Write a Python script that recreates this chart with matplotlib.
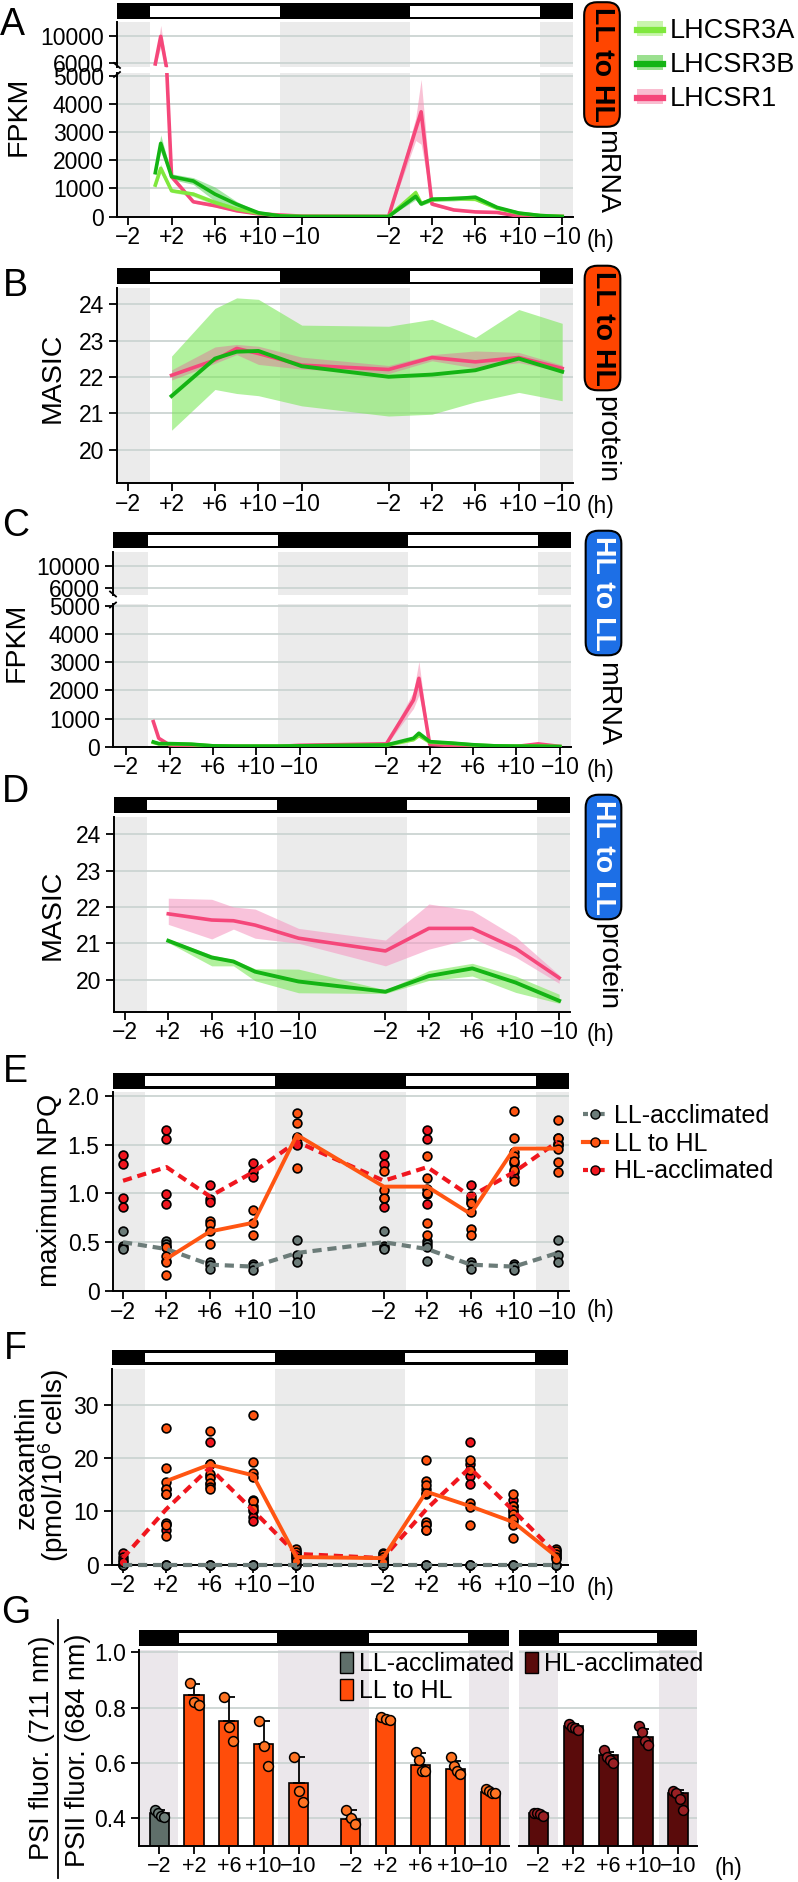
import numpy as np
import matplotlib
matplotlib.use('Agg')
import matplotlib.pyplot as plt
from matplotlib.patches import Rectangle, Patch
from matplotlib.lines import Line2D

plt.rcParams['font.family'] = ['Liberation Sans', 'DejaVu Sans']
plt.rcParams['mathtext.fontset'] = 'custom'
plt.rcParams['mathtext.rm'] = 'Liberation Sans'

# ---------------- data ----------------
tick_pos = [-2, 2, 6, 10, 14, 22, 26, 30, 34, 38]
tick_lab = ['−2', '+2', '+6', '+10', '−10', '−2', '+2', '+6', '+10', '−10']
light_on = [(0, 12), (24, 36)]
dark = [(-6, 0), (12, 24), (36, 45)]

# mRNA time points (h)
rna_h = [0.5, 1, 2, 4, 6, 8, 10, 12, 14, 22, 24.5, 25, 26, 28, 30, 32, 34, 36, 38]

# A: LL to HL, mRNA (FPKM)
a_3a = [1120, 1715, 920, 800, 500, 270, 120, 30, 10, 5, 850, 470, 600, 650, 620, 300, 120, 40, 10]
a_3a_sd = [100, 150, 60, 80, 100, 60, 30, 10, 5, 5, 120, 60, 60, 60, 60, 40, 30, 10, 5]
a_3b = [1560, 2600, 1420, 1265, 800, 440, 140, 25, 5, 5, 720, 450, 620, 640, 690, 330, 130, 40, 5]
a_3b_sd = [80, 300, 100, 120, 250, 100, 40, 10, 5, 5, 120, 60, 80, 80, 80, 60, 30, 10, 5]
a_1 = [5900, 9900, 1420, 530, 390, 210, 100, 60, 20, 10, 3100, 3720, 450, 240, 170, 150, 20, 20, 10]
a_1_sd = [300, 1600, 100, 50, 50, 40, 30, 20, 10, 10, 400, 1150, 60, 40, 30, 30, 20, 20, 10]

# C: HL to LL, mRNA (FPKM)
c_3a = [150, 100, 100, 80, 30, 20, 20, 20, 30, 50, 250, 400, 160, 120, 60, 30, 20, 20, 5]
c_3a_sd = [30, 20, 20, 20, 10, 5, 5, 5, 10, 10, 40, 60, 30, 20, 15, 10, 5, 5, 5]
c_3b = [170, 110, 110, 90, 30, 20, 20, 20, 30, 60, 300, 480, 180, 130, 70, 30, 20, 20, 5]
c_3b_sd = [30, 20, 20, 20, 10, 5, 5, 5, 10, 10, 40, 60, 30, 20, 15, 10, 5, 5, 5]
c_1 = [890, 300, 60, 20, 10, 10, 10, 10, 50, 100, 1660, 2430, 80, 40, 20, 10, 10, 100, 10]
c_1_sd = [100, 60, 20, 10, 5, 5, 5, 5, 20, 40, 300, 600, 20, 10, 5, 5, 5, 60, 5]

# protein time points (h)
prot_h = [2, 6, 8, 10, 14, 22, 26, 30, 34, 38]

# B: LL to HL, protein (MASIC)
b_3 = [21.48, 22.51, 22.70, 22.72, 22.30, 22.01, 22.07, 22.19, 22.51, 22.15]
b_3_lo = [20.54, 21.66, 21.55, 21.49, 21.21, 20.93, 20.98, 21.32, 21.58, 21.35]
b_3_hi = [22.58, 23.89, 24.18, 24.14, 23.43, 23.40, 23.59, 23.09, 23.86, 23.48]
b_1 = [22.05, 22.47, 22.79, 22.65, 22.33, 22.21, 22.54, 22.42, 22.54, 22.24]
b_1_lo = [21.92, 22.38, 22.62, 22.35, 22.22, 22.10, 22.45, 22.25, 22.40, 22.15]
b_1_hi = [22.20, 22.83, 22.90, 22.85, 22.55, 22.32, 22.62, 22.72, 22.68, 22.33]

# D: HL to LL, protein (MASIC)
d_1 = [21.81, 21.64, 21.62, 21.50, 21.14, 20.79, 21.41, 21.41, 20.86, 20.05]
d_1_lo = [21.52, 21.12, 21.39, 21.14, 21.00, 20.38, 20.84, 21.14, 20.62, 19.90]
d_1_hi = [22.24, 22.21, 22.00, 21.94, 21.41, 21.09, 22.08, 21.90, 21.18, 20.13]
d_3 = [21.07, 20.61, 20.50, 20.22, 19.95, 19.67, 20.10, 20.31, 19.92, 19.42]
d_3_lo = [21.02, 20.38, 20.38, 19.97, 19.64, 19.62, 19.98, 20.10, 19.65, 19.35]
d_3_hi = [21.12, 20.68, 20.55, 20.30, 20.29, 19.72, 20.25, 20.45, 20.10, 19.60]

# E: maximum NPQ
e_h = [-2, 2, 6, 10, 14, 22, 26, 30, 34, 38]
e_ll_mean = [0.50, 0.43, 0.27, 0.25, 0.39, 0.50, 0.43, 0.27, 0.25, 0.39]
e_hl_mean = [1.13, 1.27, 0.97, 1.22, 1.53, 1.13, 1.27, 0.97, 1.22, 1.53]
e_ll_pts = [[0.61, 0.46, 0.44, 0.43], [0.51, 0.48, 0.45, 0.31], [0.30, 0.27, 0.23],
            [0.28, 0.26, 0.22], [0.52, 0.37, 0.30], [0.61, 0.46, 0.44, 0.43],
            [0.51, 0.48, 0.45, 0.31], [0.30, 0.27, 0.23], [0.28, 0.26, 0.22], [0.52, 0.37, 0.30]]
e_hl_pts = [[1.39, 1.30, 0.95, 0.86], [1.65, 1.56, 0.99, 0.89], [1.09, 0.94, 0.91],
            [1.31, 1.22, 1.17], [1.57, 1.52, 1.50], [1.39, 1.30, 0.95, 0.86],
            [1.65, 1.56, 0.99, 0.89], [1.09, 0.94, 0.91], [1.31, 1.22, 1.17], [1.57, 1.52, 1.50]]
e_sh_h = [2, 6, 10, 14, 22, 26, 30, 34, 38]
e_sh_mean = [0.33, 0.61, 0.70, 1.60, 1.07, 1.07, 0.79, 1.46, 1.46]
e_sh_pts = [[0.45, 0.36, 0.30, 0.16], [0.72, 0.69, 0.61, 0.48], [0.83, 0.70, 0.57],
            [1.82, 1.72, 1.58, 1.26], [1.23, 1.04, 0.95], [1.38, 1.16, 1.05, 1.00, 0.70, 0.57],
            [0.97, 0.90, 0.81, 0.64, 0.57], [1.85, 1.57, 1.43, 1.38, 1.33, 1.24, 1.13],
            [1.75, 1.57, 1.50, 1.46, 1.32, 1.22]]

# F: zeaxanthin (pmol/10^6 cells)
f_ll_mean = [0, 0, 0, 0, 0, 0, 0, 0, 0, 0]
f_hl_mean = [1.2, 10.4, 18.2, 10.2, 2.0, 1.2, 10.4, 18.2, 10.2, 2.0]
f_ll_pts = [[0, 0, 0]] * 10
f_hl_pts = [[2.1, 1.4, 0.9, 0.5], [14.3, 13.3, 7.6, 6.5], [23.0, 19.0, 16.6, 15.1],
            [12.2, 11.0, 10.0, 9.0, 8.2], [2.6, 1.9, 1.4], [2.1, 1.4, 0.9, 0.5],
            [14.3, 13.3, 7.6, 6.5], [23.0, 19.0, 16.6, 15.1], [12.2, 11.0, 10.0, 9.0, 8.2],
            [2.6, 1.9, 1.4]]
f_sh_mean = [15.7, 18.8, 16.8, 1.4, 1.2, 13.7, 11.0, 8.0, 1.5]
f_sh_pts = [[25.7, 18.2, 15.6, 14.2, 13.2, 7.8, 7.4, 5.3],
            [25.2, 19.0, 17.1, 16.3, 15.3, 14.6, 14.2],
            [28.1, 19.3, 17.3, 16.4, 12.0, 10.5],
            [3.0, 2.4, 1.8, 1.2, 0.6], [2.0, 1.4, 0.9, 0.4],
            [19.6, 15.7, 14.9, 13.4, 8.0, 7.4, 6.5],
            [19.6, 17.8, 11.6, 10.8, 7.4],
            [13.3, 11.0, 10.3, 9.5, 8.5, 7.5, 5.0],
            [3.0, 2.5, 2.0, 1.5, 1.0]]

# G: PSI/PSII fluorescence ratio
g_lab = ['−2', '+2', '+6', '+10', '−10']
g_ll_mean = 0.42
g_ll_sd = 0.01
g_ll_pts = [0.43, 0.42, 0.41, 0.405]
g_sh_mean = [0.845, 0.750, 0.668, 0.527, 0.398, 0.757, 0.592, 0.578, 0.495]
g_sh_sd = [0.04, 0.09, 0.083, 0.096, 0.032, 0.005, 0.043, 0.03, 0.011]
g_sh_pts = [[0.89, 0.82, 0.81], [0.84, 0.73, 0.68], [0.75, 0.66, 0.59], [0.62, 0.50, 0.46],
            [0.43, 0.40, 0.38], [0.765, 0.76, 0.755], [0.64, 0.61, 0.57, 0.57],
            [0.62, 0.59, 0.57, 0.56], [0.505, 0.50, 0.49, 0.49]]
g_hl_mean = [0.42, 0.733, 0.627, 0.694, 0.49]
g_hl_sd = [0.005, 0.008, 0.012, 0.03, 0.012]
g_hl_pts = [[0.42, 0.42, 0.415, 0.41], [0.74, 0.73, 0.725, 0.72], [0.645, 0.62, 0.61, 0.60],
            [0.735, 0.71, 0.68, 0.665], [0.50, 0.49, 0.47, 0.43]]

# ---------------- styles ----------------
C3A, C3B, C1 = '#80e83e', '#14b414', '#f5477a'
B3A, B3B, B1 = '#9cf07e', '#5ed25e', '#f590b4'
GRAY_BG = '#ebebeb'
GRID = '#cbd4d2'
LLC, SHC, HLC = '#6c7c79', '#ff5512', '#f0161e'
TICK_FS, LAB_FS = 16.5, 20.5

W, H = 798, 1882
fig = plt.figure(figsize=(W / 100, H / 100), dpi=100)


def add_ax(x0, y0, x1, y1):
    return fig.add_axes([x0 / W, 1 - y1 / H, (x1 - x0) / W, (y1 - y0) / H])


def ftext(x, y, s, **kw):
    return fig.text(x / W, 1 - y / H, s, **kw)


def fline(xs, ys, **kw):
    fig.add_artist(Line2D([x / W for x in xs], [1 - y / H for y in ys],
                          transform=fig.transFigure, **kw))


def light_bar(x0, x1, y0, y1, xlim, spans):
    ax = add_ax(x0, y0, x1, y1)
    ax.set_xlim(xlim)
    ax.set_ylim(0, 1)
    ax.axis('off')
    ax.add_patch(Rectangle((xlim[0], 0), xlim[1] - xlim[0], 1, fc='black', ec='none'))
    for a, b in spans:
        ax.add_patch(Rectangle((a, 0.17), b - a, 0.66, fc='white', ec='none'))


def base(ax, xlim, ylim, yticks, ylabels=None, xaxis=True, shade=dark,
         xt=tick_pos, xl=tick_lab, bg=GRAY_BG, xfs=TICK_FS):
    ax.set_xlim(xlim)
    ax.set_ylim(ylim)
    ax.spines[['top', 'right']].set_visible(False)
    for s in ('left', 'bottom'):
        ax.spines[s].set_linewidth(1.4)
    ax.set_yticks(yticks)
    ax.set_yticklabels(ylabels if ylabels else [str(t) for t in yticks])
    ax.yaxis.grid(True, color=GRID, lw=1.3)
    ax.set_axisbelow(True)
    ax.tick_params(axis='y', labelsize=TICK_FS, length=6, width=1.3, pad=3.5)
    ax.tick_params(axis='x', labelsize=xfs, length=6, width=1.3, pad=1)
    for a, b in shade:
        ax.axvspan(a, b, color=bg, lw=0, zorder=0)
    ax.set_xticks(xt)
    ax.set_xticklabels(xl)
    if not xaxis:
        ax.spines['bottom'].set_visible(False)
        ax.tick_params(axis='x', bottom=False, labelbottom=False)


def rna_lines(ax, series):
    h = np.array(rna_h)
    for vals, sd, col, band in series:
        v, s = np.array(vals, float), np.array(sd, float)
        ax.fill_between(h, v - s, v + s, color=band, alpha=0.55, lw=0, zorder=2)
        ax.plot(h, v, color=col, lw=2.6, zorder=3)


def box_label(x, y, s, fc, tc):
    ftext(x, y, s, rotation=270, ha='center', va='center', fontsize=20.5,
          fontweight='bold', color=tc,
          bbox=dict(boxstyle='round,pad=0.17,rounding_size=0.45', fc=fc, ec='black', lw=1.5))


def broken_marks(x, y_up, y_lo):
    fline([x - 3, x + 3], [y_up - 3, y_up + 2], color='black', lw=1.3)
    fline([x - 3, x + 3], [y_lo + 3, y_lo - 2], color='black', lw=1.3)


# ---------------- A ----------------
xlA = (-3.03, 38.95)
light_bar(117, 572.5, 3.3, 19.3, xlA, light_on)
axu = add_ax(117, 21.7, 572.5, 66.7)
axl = add_ax(117, 73.3, 572.5, 216.7)
base(axu, xlA, (5500, 12030), [6000, 10000], xaxis=False)
base(axl, xlA, (0, 5085), [0, 1000, 2000, 3000, 4000, 5000])
ser_a = [(a_1, a_1_sd, C1, B1), (a_3a, a_3a_sd, C3A, B3A), (a_3b, a_3b_sd, C3B, B3B)]
rna_lines(axu, ser_a)
rna_lines(axl, ser_a)
broken_marks(117, 66, 74)
ftext(19, 116, 'FPKM', rotation=90, ha='center', va='center', fontsize=LAB_FS)
box_label(602, 64.5, 'LL to HL', '#ff4500', 'black')
ftext(606, 172, 'mRNA', rotation=270, ha='center', va='center', fontsize=20.5)
handles = [(Patch(fc=b, ec='none'), Line2D([], [], color=c, lw=4.5))
           for c, b in [(C3A, '#c9f5ad'), (C3B, '#9be08f'), (C1, '#f9bdd0')]]
fig.legend(handles, ['LHCSR3A', 'LHCSR3B', 'LHCSR1'], loc='upper left',
           bbox_to_anchor=(637 / W, 1 - 18 / H), frameon=False, fontsize=19.5,
           handlelength=0.95, handleheight=0.45, handletextpad=0.25,
           labelspacing=0.3, borderpad=0, borderaxespad=0)

# ---------------- B ----------------
xlB = (-3.03, 38.95)
light_bar(117, 572.5, 268.3, 284.3, xlB, light_on)
axb = add_ax(117, 287.7, 572.5, 483.3)
base(axb, xlB, (19.08, 24.46), [20, 21, 22, 23, 24])
axb.fill_between(prot_h, b_3_lo, b_3_hi, color='#7ee85c', alpha=0.6, lw=0, zorder=2)
axb.fill_between(prot_h, b_1_lo, b_1_hi, color='#e0709a', alpha=0.45, lw=0, zorder=2)
axb.plot(prot_h, b_1, color=C1, lw=2.6, zorder=3)
axb.plot(prot_h, b_3, color=C3B, lw=2.8, zorder=3)
ftext(53, 378, 'MASIC', rotation=90, ha='center', va='center', fontsize=LAB_FS)
box_label(602.5, 328, 'LL to HL', '#ff4500', 'black')
ftext(606, 440, 'protein', rotation=270, ha='center', va='center', fontsize=20.5)

# ---------------- C ----------------
xlC = (-3.22, 39.03)
light_bar(113, 571, 532.3, 548.3, xlC, light_on)
acu = add_ax(113, 551.7, 571, 595)
acl = add_ax(113, 604, 571, 746.7)
base(acu, xlC, (4800, 12565), [6000, 10000], xaxis=False)
base(acl, xlC, (0, 5070), [0, 1000, 2000, 3000, 4000, 5000])
ser_c = [(c_1, c_1_sd, C1, B1), (c_3a, c_3a_sd, C3A, B3A), (c_3b, c_3b_sd, C3B, B3B)]
rna_lines(acu, ser_c)
rna_lines(acl, ser_c)
broken_marks(113, 594.5, 604.5)
ftext(17, 642, 'FPKM', rotation=90, ha='center', va='center', fontsize=LAB_FS)
box_label(603.5, 593, 'HL to LL', '#1d6fe6', 'white')
ftext(607, 704, 'mRNA', rotation=270, ha='center', va='center', fontsize=20.5)

# ---------------- D ----------------
xlD = (-3.0, 39.0)
light_bar(114, 570, 797.3, 812.7, xlD, light_on)
axd = add_ax(114, 816.7, 570, 1011.7)
base(axd, xlD, (19.12, 24.48), [20, 21, 22, 23, 24])
axd.fill_between(prot_h, d_1_lo, d_1_hi, color='#f59cc4', alpha=0.6, lw=0, zorder=2)
axd.fill_between(prot_h, d_3_lo, d_3_hi, color='#7ee85c', alpha=0.6, lw=0, zorder=2)
axd.plot(prot_h, d_1, color=C1, lw=2.6, zorder=3)
axd.plot(prot_h, d_3, color=C3B, lw=2.8, zorder=3)
ftext(53, 915, 'MASIC', rotation=90, ha='center', va='center', fontsize=LAB_FS)
box_label(603.5, 857, 'HL to LL', '#1d6fe6', 'white')
ftext(607, 967, 'protein', rotation=270, ha='center', va='center', fontsize=20.5)


# ---------------- E & F ----------------
def dots(ax, hours, pts, col, s=40):
    for h, p in zip(hours, pts):
        ax.scatter([h] * len(p), p, s=s, fc=col, ec='black', lw=1.2, zorder=4, clip_on=False)


xlE = (-2.95, 39.0)
light_bar(112.7, 568.5, 1073.3, 1089, xlE, light_on)
axe = add_ax(112.7, 1092, 568.5, 1291)
base(axe, xlE, (0, 2.04), [0, 0.5, 1.0, 1.5, 2.0], ['0', '0.5', '1.0', '1.5', '2.0'])
dots(axe, e_h, e_ll_pts, LLC)
dots(axe, e_h, e_hl_pts, HLC)
dots(axe, e_sh_h, e_sh_pts, SHC)
axe.plot(e_h, e_ll_mean, color=LLC, lw=3, ls=(0, (2.2, 1.4)), zorder=5)
axe.plot(e_h, e_hl_mean, color=HLC, lw=3, ls=(0, (2.2, 1.4)), zorder=5)
axe.plot(e_sh_h, e_sh_mean, color=SHC, lw=2.8, zorder=5)
ftext(50, 1190, 'maximum NPQ', rotation=90, ha='center', va='center', fontsize=LAB_FS)
eh = [Line2D([], [], color=LLC, lw=3, ls=(0, (1.2, 0.8)), marker='o', ms=6.5, mfc=LLC, mec='black'),
      Line2D([], [], color=SHC, lw=3, marker='o', ms=6.5, mfc=SHC, mec='black'),
      Line2D([], [], color=HLC, lw=3, ls=(0, (1.2, 0.8)), marker='o', ms=6.5, mfc=HLC, mec='black')]
fig.legend(eh, ['LL-acclimated', 'LL to HL', 'HL-acclimated'], loc='upper left',
           bbox_to_anchor=(583 / W, 1 - 1104 / H), frameon=False, fontsize=18,
           handlelength=0.95, handletextpad=0.3, labelspacing=0.15, borderpad=0,
           borderaxespad=0)

xlF = (-3.0, 39.1)
light_bar(112, 568.4, 1350, 1365, xlF, light_on)
axf = add_ax(112, 1369, 568.4, 1564.5)
base(axf, xlF, (0, 36.8), [0, 10, 20, 30])
dots(axf, e_h, f_ll_pts, LLC)
dots(axf, e_h, f_hl_pts, HLC)
dots(axf, e_sh_h, f_sh_pts, SHC)
axf.plot(e_h, f_ll_mean, color=LLC, lw=3, ls=(0, (2.2, 1.4)), zorder=5, clip_on=False)
axf.plot(e_h, f_hl_mean, color=HLC, lw=3, ls=(0, (2.2, 1.4)), zorder=5)
axf.plot(e_sh_h, f_sh_mean, color=SHC, lw=2.8, zorder=5)
ftext(27, 1462, 'zeaxanthin', rotation=90, ha='center', va='center', fontsize=20)
ftext(54, 1466, '(pmol/10$^{\\mathrm{6}}$ cells)', rotation=90, ha='center', va='center',
      fontsize=20)

for y in (241, 506, 771, 1034, 1310, 1589):
    ftext(601, y, '(h)', ha='center', va='center', fontsize=TICK_FS)

# ---------------- G ----------------
g_ll_col, g_sh_col, g_hl_col = '#5f6f6a', '#ff4d0a', '#5a0b0b'
g_ll_dot, g_sh_dot, g_hl_dot = '#6f7f7a', '#ff7322', '#9a2024'
G_BG = '#ebe7eb'
G_XFS = 15.5
pos = np.concatenate([np.arange(5), np.arange(5) + 5.5])
light_bar(139.4, 508.9, 1630, 1646, (-0.57, 10.04), [(0.58, 3.37), (6.03, 8.86)])
axg = add_ax(139.4, 1650, 508.9, 1846)
base(axg, (-0.57, 10.04), (0.30, 1.008), [0.4, 0.6, 0.8, 1.0], ['0.4', '0.6', '0.8', '1.0'],
     shade=[(-1, 0.55), (3.42, 6.03), (8.9, 11)], xt=pos, xl=g_lab * 2, bg=G_BG, xfs=G_XFS)


def gdots(ax, x, p, col):
    n = len(p)
    offs = np.linspace(-0.13, 0.13, n) if n > 1 else [0]
    ax.scatter(x + np.array(offs), p, s=50, fc=col, ec='black', lw=1.1, zorder=5)


axg.bar(pos[0], g_ll_mean, width=0.55, color=g_ll_col, ec='black', lw=1.2, zorder=2)
axg.bar(pos[1:], g_sh_mean, width=0.55, color=g_sh_col, ec='black', lw=1.2, zorder=2)
axg.errorbar(pos, [g_ll_mean] + g_sh_mean, yerr=[np.zeros(10), [g_ll_sd] + g_sh_sd],
             fmt='none', ecolor='black', elinewidth=1.3, capsize=4, capthick=1.3, zorder=3)
gdots(axg, pos[0], g_ll_pts, g_ll_dot)
for x, p in zip(pos[1:], g_sh_pts):
    gdots(axg, x, p, g_sh_dot)

pos2 = np.arange(5)
light_bar(519.1, 697.2, 1630, 1646, (-0.55, 4.55), [(0.58, 3.39)])
axh = add_ax(519.1, 1650, 697.2, 1846)
base(axh, (-0.55, 4.55), (0.30, 1.008), [0.4, 0.6, 0.8, 1.0],
     shade=[(-1, 0.55), (3.47, 5)], xt=pos2, xl=g_lab, bg=G_BG, xfs=G_XFS)
axh.spines['left'].set_visible(False)
axh.tick_params(axis='y', left=False, labelleft=False)
axh.bar(pos2, g_hl_mean, width=0.55, color=g_hl_col, ec='black', lw=1.2, zorder=2)
axh.errorbar(pos2, g_hl_mean, yerr=[np.zeros(5), g_hl_sd], fmt='none', ecolor='black',
             elinewidth=1.3, capsize=4, capthick=1.3, zorder=3)
for x, p in zip(pos2, g_hl_pts):
    gdots(axh, x, p, g_hl_dot)

fig.legend([Patch(fc=g_ll_col, ec='black'), Patch(fc=g_sh_col, ec='black')],
           ['LL-acclimated', 'LL to HL'], loc='upper left',
           bbox_to_anchor=(340 / W, 1 - 1652 / H), frameon=False, fontsize=18,
           handlelength=0.5, handleheight=0.9, handletextpad=0.25, labelspacing=0.12,
           borderpad=0, borderaxespad=0)
fig.legend([Patch(fc=g_hl_col, ec='black')], ['HL-acclimated'], loc='upper left',
           bbox_to_anchor=(525 / W, 1 - 1652 / H), frameon=False, fontsize=18,
           handlelength=0.5, handleheight=0.9, handletextpad=0.25,
           borderpad=0, borderaxespad=0)
ftext(729, 1868, '(h)', ha='center', va='center', fontsize=TICK_FS)

ftext(42, 1748, 'PSI fluor. (711 nm)', rotation=90, ha='center', va='center', fontsize=19.5)
ftext(78, 1750, 'PSII fluor. (684 nm)', rotation=90, ha='center', va='center', fontsize=19.5)
fline([58, 58], [1620, 1878], color='black', lw=1.3)

# ---------------- panel letters ----------------
for letter, x, y in [('A', 0, 35), ('B', 3, 296), ('C', 2, 536), ('D', 2, 802),
                     ('E', 3, 1082), ('F', 4, 1359), ('G', 1, 1623)]:
    ftext(x, y, letter, ha='left', va='baseline', fontsize=27)

fig.savefig('out.png', dpi=100)
